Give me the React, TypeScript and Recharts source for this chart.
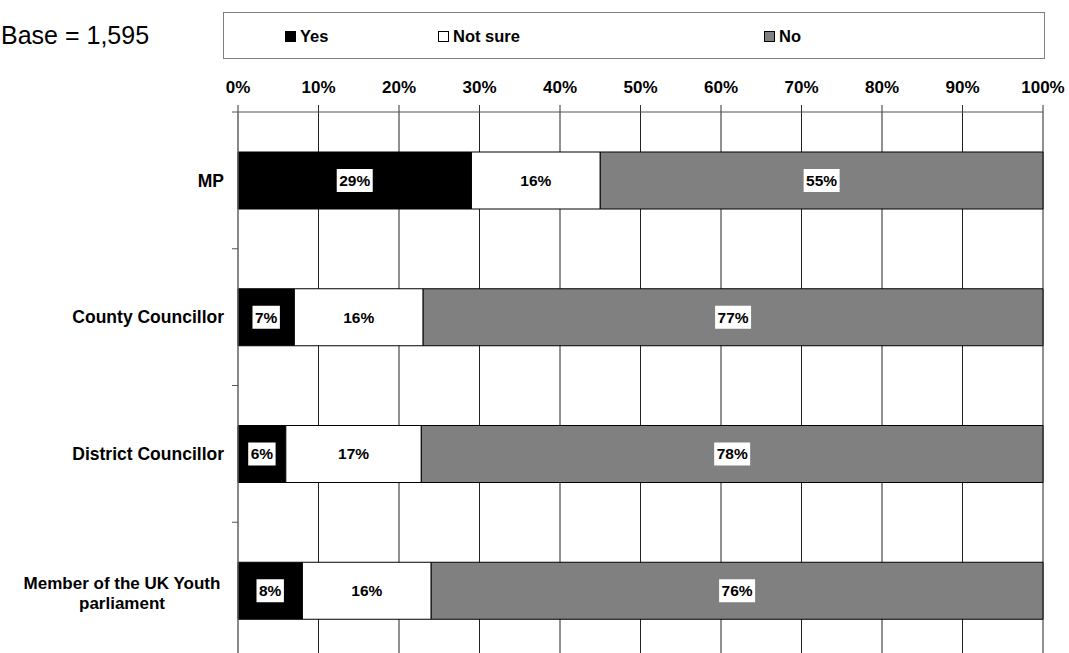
import React from 'react';
import { BarChart, Bar, XAxis, YAxis, CartesianGrid, Legend, LabelList } from 'recharts';

const categories = ['MP', 'County Councillor', 'District Councillor', 'Member of the UK Youth parliament'];
const yesValues = [29, 7, 6, 8];
const notSureValues = [16, 16, 17, 16];
const noValues = [55, 77, 78, 76];
const percentTicks = [0, 10, 20, 30, 40, 50, 60, 70, 80, 90, 100];
const baseText = 'Base = 1,595';

const FONT = 'Arial, "Liberation Sans", sans-serif';

const data = categories.map((category, i) => ({
  category,
  yes: yesValues[i],
  notSure: notSureValues[i],
  no: noValues[i],
}));

const series = [
  { key: 'yes', name: 'Yes', fill: '#000000', values: yesValues },
  { key: 'notSure', name: 'Not sure', fill: '#ffffff', values: notSureValues },
  { key: 'no', name: 'No', fill: '#808080', values: noValues },
];

// split long category names onto two lines
const wrapLabel = (text: string, maxChars = 22) => {
  const lines: string[] = [];
  let current = '';
  text.split(' ').forEach((word) => {
    const next = current ? `${current} ${word}` : word;
    if (next.length > maxChars && current) {
      lines.push(current);
      current = word;
    } else {
      current = next;
    }
  });
  if (current) lines.push(current);
  return lines;
};

const CategoryTick = (props: any) => {
  const { x, y, payload, index } = props;
  const half = payload?.offset || 68.4;
  const lines = wrapLabel(String(payload.value));
  const textX = x - 6;
  return (
    <g>
      <line x1={x + 2} x2={x + 8} y1={y - half} y2={y - half} stroke="#555" />
      {index === categories.length - 1 && (
        <line x1={x + 2} x2={x + 8} y1={y + half} y2={y + half} stroke="#555" />
      )}
      {lines.length === 1 ? (
        <text x={textX} y={y} dy="0.35em" textAnchor="end" fontFamily={FONT} fontWeight="bold" fontSize={17.5} fill="#000">
          {lines[0]}
        </text>
      ) : (
        <text x={textX - 102} y={y - 8} textAnchor="middle" fontFamily={FONT} fontWeight="bold" fontSize={17} fill="#000">
          {lines.map((line, i) => (
            <tspan key={i} x={textX - 102} dy={i === 0 ? '0.35em' : 20}>
              {line}
            </tspan>
          ))}
        </text>
      )}
    </g>
  );
};

const makeSegmentLabel = (values: number[]) => (props: any) => {
  const { x, y, width, height, index } = props;
  const text = `${values[index]}%`;
  const digits = text.length - 1;
  const boxW = digits * 8.6 + 13.8 + 5;
  const boxH = 23;
  const cx = x + width / 2;
  const cy = y + height / 2;
  return (
    <g>
      <rect x={cx - boxW / 2} y={cy - boxH / 2} width={boxW} height={boxH} fill="#fff" />
      <text x={cx} y={cy} dy="0.35em" textAnchor="middle" fontFamily={FONT} fontWeight="bold" fontSize={15.5} fill="#000">
        {text}
      </text>
    </g>
  );
};

const legendOffsets = [61, 214, 540];

const LegendBox = () => (
  <div
    style={{
      position: 'relative',
      width: 822,
      height: 47,
      boxSizing: 'border-box',
      border: '1px solid #808080',
      background: '#fff',
      fontFamily: FONT,
      fontWeight: 'bold',
      fontSize: 16.5,
    }}
  >
    {series.map((s, i) => (
      <div
        key={s.key}
        style={{ position: 'absolute', left: legendOffsets[i], top: 14, display: 'flex', alignItems: 'center', height: 18 }}
      >
        <span
          style={{
            display: 'inline-block',
            width: 11,
            height: 11,
            boxSizing: 'border-box',
            border: '1px solid #000',
            background: s.fill,
            marginRight: 4,
          }}
        />
        <span>{s.name}</span>
      </div>
    ))}
  </div>
);

export default function App() {
  return (
    <div style={{ position: 'fixed', left: 0, top: 0, width: 1069, height: 653, overflow: 'hidden', background: '#fff' }}>
      <div
        style={{
          position: 'absolute',
          left: 1,
          top: 21,
          fontFamily: FONT,
          fontSize: 25,
          lineHeight: '29px',
          color: '#000',
          whiteSpace: 'nowrap',
        }}
      >
        {baseText}
      </div>
      <BarChart
        width={1069}
        height={670}
        data={data}
        layout="vertical"
        stackOffset="expand"
        barSize={57}
        margin={{ top: 25, right: 26, bottom: 11, left: 8 }}
      >
        <CartesianGrid horizontal={false} stroke="#222" />
        <XAxis
          type="number"
          orientation="top"
          domain={[0, 1]}
          ticks={percentTicks.map((t) => t / 100)}
          tickFormatter={(v: number) => `${Math.round(v * 100)}%`}
          height={40}
          tickSize={7}
          tickMargin={12}
          axisLine={{ stroke: '#555' }}
          tickLine={{ stroke: '#333' }}
          tick={{ fontFamily: FONT, fontWeight: 'bold', fontSize: 17, fill: '#000' }}
        />
        <YAxis
          type="category"
          dataKey="category"
          width={230}
          tickLine={false}
          axisLine={{ stroke: '#808080' }}
          tick={<CategoryTick />}
          interval={0}
        />
        <Legend
          verticalAlign="top"
          content={<LegendBox />}
          wrapperStyle={{ top: 12, left: 223, width: 822, height: 47 }}
        />
        {series.map((s) => (
          <Bar
            key={s.key}
            dataKey={s.key}
            name={s.name}
            stackId="answers"
            fill={s.fill}
            stroke="#000"
            strokeWidth={1}
            isAnimationActive={false}
          >
            <LabelList dataKey={s.key} content={makeSegmentLabel(s.values)} />
          </Bar>
        ))}
      </BarChart>
    </div>
  );
}
